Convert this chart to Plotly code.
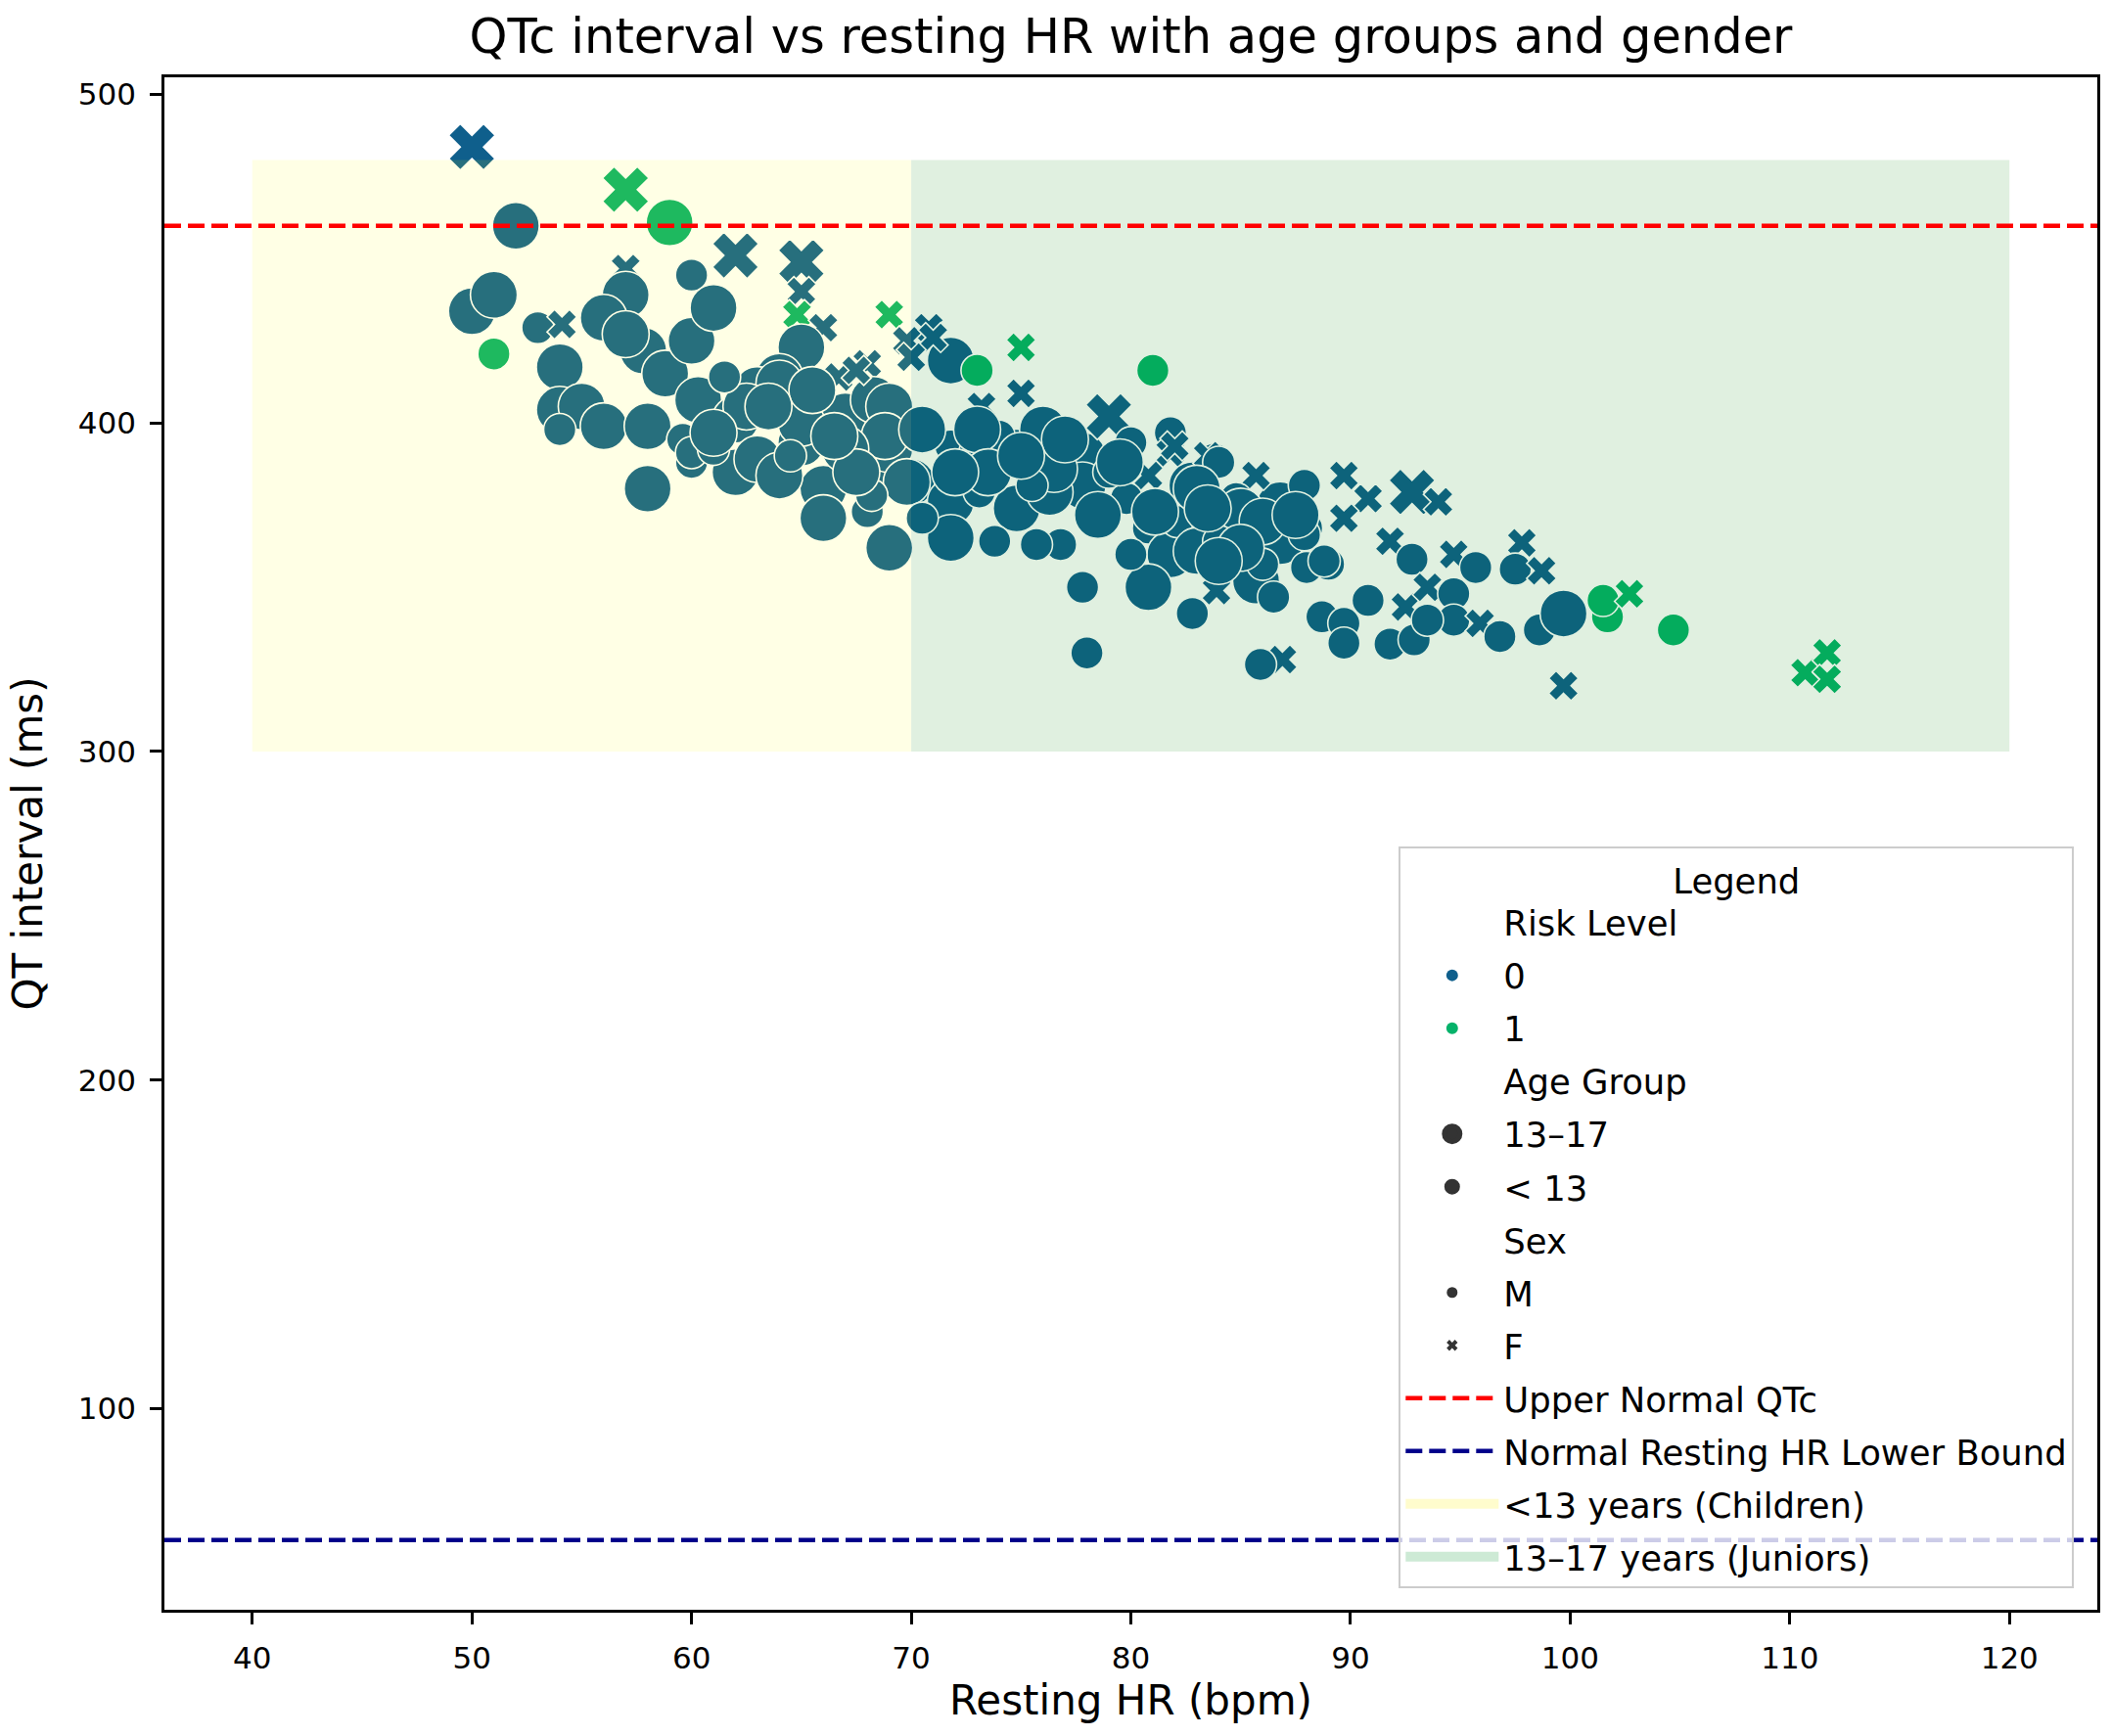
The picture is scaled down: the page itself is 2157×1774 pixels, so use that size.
import plotly.graph_objects as go

A = "13–17"
C = "< 13"

hr = [
    50, 57, 59, 52, 62, 65, 57, 60, 65, 64.8,
    69, 50, 51, 51, 53, 54.1, 57, 56, 54, 54,
    55, 56, 54, 57.8, 58.8, 60, 61, 66, 65, 64,
    63, 58, 60.3, 62, 60, 62, 63, 65, 66, 66,
    58, 67, 68, 68, 68.3, 68.5, 69, 59.6, 66.7, 65,
    64, 64, 69, 69, 70, 60, 61, 70.8, 69.8, 67.5,
    71.8, 73, 75, 75, 73.2, 68.8, 69.8, 71.8, 71.8, 71.8,
    74.8, 74.8, 77.8, 77.8, 79, 80, 81.8, 81.8, 83.8, 80.8,
    82.8, 79.8, 80.8, 81.8, 80.8, 82.8, 77.8, 78, 83.9, 85.7,
    86.8, 86.8, 85.7, 76.8, 75.7, 73.8, 72.9, 76, 74, 83.3,
    84.5, 82.1, 81.1, 87.9, 84.8, 68.2, 70.5, 73.1, 76.3, 81,
    82, 83.5, 85, 88, 89, 88, 84, 83, 83, 84,
    86, 71, 70, 88.8, 87.9, 89.7, 90.8, 89.7, 92.8, 94,
    91.8, 92.8, 94.7, 95.7, 97.8, 97.5, 98.7, 90.8, 88.7, 89.7,
    89.7, 91.8, 92.9, 92.5, 93.5, 94.7, 94.7, 95.9, 96.8, 93.5,
    98.6, 99.7, 101.7, 101.5, 102.7, 104.7, 99.7, 86.9, 85.9, 110.7,
    111.7, 111.7, 73, 76.5, 79, 62.5, 65.5, 67, 70.5, 78.5,
    75.5, 86, 85, 80, 57, 61.5, 63.5, 61, 67.5, 64.5,
    66.5, 73.5, 77, 79.5, 84, 87.5, 83.5, 86.5, 72, 75,
]

qtc = [
    484, 471, 461, 460, 451, 449, 447, 445, 440, 433,
    433, 434, 439, 421, 429, 430, 439, 432, 417, 404,
    405, 399, 398, 422, 415, 425, 435, 429, 423, 414,
    410, 399, 407, 401, 388, 385, 389, 394, 380, 371,
    380, 402, 373, 418, 407, 388, 362, 395, 414, 400,
    384, 412, 405, 392, 382, 391, 392, 429, 425, 416,
    419, 416, 423, 409, 405, 396, 382, 393, 376, 365,
    391, 374, 390, 381, 402, 394, 397, 391, 389, 384,
    381, 377, 368, 360, 350, 342, 350, 330, 349, 352,
    375, 364, 384, 363, 363, 364, 391, 398, 396, 369,
    371, 370, 373, 381, 377, 378, 371, 379, 379, 416,
    393, 390, 373, 368, 357, 356, 388, 380, 361, 364,
    370, 426, 420, 358, 366, 384, 377, 371, 379, 376,
    364, 358.5, 360, 356, 363.5, 355.5, 355, 346, 341, 339,
    333, 332.7, 334, 344, 350, 348, 340, 339, 335, 340,
    337, 342, 341, 346, 348, 337, 320, 328, 326.5, 324,
    330, 322, 398, 386, 385, 405, 410, 392, 398, 372,
    381, 357, 362, 360, 427, 414, 405, 397, 385, 390,
    396, 385, 395, 388, 358, 372, 374, 347, 385, 390,
]

risk = [
    0, 1, 1, 0, 0, 0, 0, 0, 0, 1,
    1, 0, 0, 1, 0, 0, 0, 0, 0, 0,
    0, 0, 0, 0, 0, 0, 0, 0, 0, 0,
    0, 0, 0, 0, 0, 0, 0, 0, 0, 0,
    0, 0, 0, 0, 0, 0, 0, 0, 0, 0,
    0, 0, 0, 0, 0, 0, 0, 0, 0, 0,
    0, 1, 1, 0, 0, 0, 0, 0, 0, 0,
    0, 0, 0, 0, 0, 0, 0, 0, 0, 0,
    0, 0, 0, 0, 0, 0, 0, 0, 0, 0,
    0, 0, 0, 0, 0, 0, 0, 0, 0, 0,
    0, 0, 0, 0, 0, 0, 0, 0, 0, 1,
    0, 0, 0, 0, 0, 0, 0, 0, 0, 0,
    0, 0, 0, 0, 0, 0, 0, 0, 0, 0,
    0, 0, 0, 0, 0, 0, 0, 0, 0, 0,
    0, 0, 0, 0, 0, 0, 0, 0, 0, 0,
    0, 0, 1, 1, 1, 1, 0, 0, 0, 1,
    1, 1, 0, 0, 0, 0, 0, 0, 0, 0,
    0, 0, 0, 0, 0, 0, 0, 0, 0, 0,
    0, 0, 0, 0, 0, 0, 0, 0, 0, 0,
]

age_group = [
    A, A, A, A, A, A, C, C, C, C,
    C, A, A, C, C, C, A, A, A, A,
    A, A, C, A, A, A, A, C, A, A,
    A, A, A, A, C, A, A, A, A, A,
    A, A, C, C, A, A, A, C, C, A,
    A, A, A, A, A, C, C, C, C, C,
    A, C, C, C, C, A, A, C, A, A,
    A, A, A, A, A, C, C, C, C, C,
    A, C, C, A, A, C, C, C, C, A,
    A, A, C, C, C, C, C, A, C, C,
    C, C, A, C, C, C, C, C, A, C,
    C, C, A, C, C, C, C, A, A, C,
    A, C, C, C, C, C, C, C, A, C,
    C, C, C, C, C, C, C, C, C, C,
    C, C, C, C, C, C, C, C, C, C,
    C, A, C, C, C, C, C, C, C, C,
    C, C, A, A, C, A, A, A, A, A,
    C, C, A, C, A, C, A, A, A, C,
    A, A, A, A, A, A, A, C, A, A,
]

sex = [
    "F", "F", "M", "M", "F", "F", "F", "M", "F", "F",
    "F", "M", "M", "M", "M", "F", "M", "M", "M", "M",
    "M", "M", "M", "M", "M", "M", "M", "F", "M", "M",
    "M", "M", "M", "M", "M", "M", "M", "M", "M", "M",
    "M", "M", "M", "F", "M", "M", "M", "M", "F", "M",
    "M", "M", "M", "M", "M", "M", "M", "F", "F", "F",
    "M", "M", "F", "F", "F", "M", "M", "M", "M", "M",
    "M", "M", "M", "M", "F", "M", "M", "F", "M", "F",
    "M", "M", "M", "M", "M", "M", "M", "M", "F", "M",
    "M", "M", "F", "M", "M", "M", "M", "M", "M", "M",
    "M", "M", "M", "M", "M", "M", "M", "M", "M", "M",
    "F", "F", "M", "M", "M", "M", "M", "M", "M", "M",
    "M", "F", "F", "M", "M", "F", "F", "F", "F", "F",
    "F", "M", "F", "M", "F", "M", "F", "M", "M", "M",
    "M", "M", "M", "F", "F", "M", "M", "F", "M", "M",
    "M", "M", "M", "M", "F", "M", "F", "F", "M", "F",
    "F", "F", "M", "M", "M", "M", "M", "M", "M", "M",
    "M", "M", "M", "M", "M", "M", "M", "M", "M", "M",
    "M", "M", "M", "M", "M", "M", "M", "M", "M", "M",
]

upper_qtc = 460
hr_lower_bound = 60
child_span = (40, 70)
junior_span = (70, 120)
band_y = (300, 480)
x_range = [36.0, 124.0]
y_range = [38.8, 505.2]

risk_colors = {0: "#0f5f8c", 1: "#05b26a"}
size_map = {(A, "M"): 48, (C, "M"): 33, (A, "F"): 42, (C, "F"): 27}
symbol_map = {"M": "circle", "F": "x"}
child_fill = "rgba(255,255,0,0.10)"
junior_fill = "rgba(0,128,0,0.12)"

FONT = "DejaVu Sans"
fig = go.Figure()

fig.add_trace(go.Scatter(
    x=hr, y=qtc, mode="markers", showlegend=False, hoverinfo="skip",
    marker=dict(
        color=[risk_colors[r] for r in risk],
        size=[size_map[(a, s)] for a, s in zip(age_group, sex)],
        symbol=[symbol_map[s] for s in sex],
        opacity=1,
        line=dict(color="white", width=1.6),
    ),
))

# age bands drawn on top (tint the points like axvspan)
for span, col in [(child_span, child_fill), (junior_span, junior_fill)]:
    fig.add_trace(go.Scatter(
        x=[span[0], span[1], span[1], span[0], span[0]],
        y=[band_y[0], band_y[0], band_y[1], band_y[1], band_y[0]],
        mode="lines", fill="toself", fillcolor=col,
        line=dict(width=0, color=col), showlegend=False, hoverinfo="skip",
    ))

fig.add_trace(go.Scatter(
    x=x_range, y=[upper_qtc, upper_qtc], mode="lines",
    line=dict(color="red", width=4.5, dash="17px,7px"),
    name="Upper Normal QTc", legendrank=10, legendgroup="uq", hoverinfo="skip",
))
fig.add_trace(go.Scatter(
    x=x_range, y=[hr_lower_bound, hr_lower_bound], mode="lines",
    line=dict(color="#00008b", width=4.5, dash="17px,7px"),
    name="Normal Resting HR Lower Bound", legendrank=11, legendgroup="lb",
    hoverinfo="skip",
))

# legend patches for the age bands
for name, col, rank in [
    ("<13 years (Children)", "rgba(255,252,200,0.9)", 12),
    ("13–17 years (Juniors)", "rgba(200,232,208,0.9)", 13),
]:
    fig.add_trace(go.Scatter(
        x=[None], y=[None], mode="lines", line=dict(color=col, width=10),
        name=name, legendrank=rank, legendgroup=name,
    ))

hidden = dict(size=2, color="rgba(0,0,0,0)", line=dict(width=0))
legend_items = [
    ("Risk Level", hidden),
    ("0", dict(size=12, color=risk_colors[0], symbol="circle")),
    ("1", dict(size=12, color=risk_colors[1], symbol="circle")),
    ("Age Group", hidden),
    (A, dict(size=16, color="#333333", symbol="circle",
             line=dict(color="#333333", width=5))),
    (C, dict(size=14, color="#333333", symbol="circle",
             line=dict(color="#333333", width=2))),
    ("Sex", hidden),
    ("M", dict(size=11, color="#333333", symbol="circle")),
    ("F", dict(size=10, color="#333333", symbol="x")),
]
for i, (name, mk) in enumerate(legend_items):
    fig.add_trace(go.Scatter(
        x=[None], y=[None], mode="markers", marker=mk, name=name,
        legendrank=i + 1, legendgroup="g%d" % i,
    ))

axis_common = dict(
    showline=True, linecolor="black", linewidth=2.6, mirror=True,
    ticks="outside", ticklen=12, tickwidth=2.6, tickcolor="black",
    ticklabelstandoff=8,
    showgrid=False, zeroline=False,
    tickfont=dict(family=FONT, size=31, color="black"),
)

fig.update_layout(
    width=2157, height=1774,
    margin=dict(l=168, r=14, t=79, b=129, autoexpand=False),
    paper_bgcolor="white", plot_bgcolor="white",
    font=dict(family=FONT, color="black"),
    title=dict(
        text="QTc interval vs resting HR with age groups and gender",
        x=0.5, xref="paper", xanchor="center",
        y=1 - 37 / 1774, yref="container", yanchor="middle",
        font=dict(family=FONT, size=49.5, color="black"),
    ),
    xaxis=dict(
        range=x_range, tickvals=[40, 50, 60, 70, 80, 90, 100, 110, 120],
        title=dict(text="Resting HR (bpm)", standoff=12,
                   font=dict(family=FONT, size=42, color="black")),
        automargin=False, **axis_common,
    ),
    yaxis=dict(
        range=y_range, tickvals=[100, 200, 300, 400, 500],
        title=dict(text="QT interval (ms)", standoff=24,
                   font=dict(family=FONT, size=42, color="black")),
        automargin=False, **axis_common,
    ),
    legend=dict(
        x=0.988, y=0.014, xanchor="right", yanchor="bottom",
        bgcolor="rgba(255,255,255,0.8)", bordercolor="#cccccc", borderwidth=2,
        font=dict(family=FONT, size=35.4, color="black"),
        title=dict(text="Legend", side="top center",
                   font=dict(family=FONT, size=35.4, color="black")),
        itemwidth=95, tracegroupgap=5, traceorder="grouped",
        itemsizing="trace",
    ),
)

fig.write_html("out.html", config={"displayModeBar": False},
               post_script="document.body.style.margin='0px';")
